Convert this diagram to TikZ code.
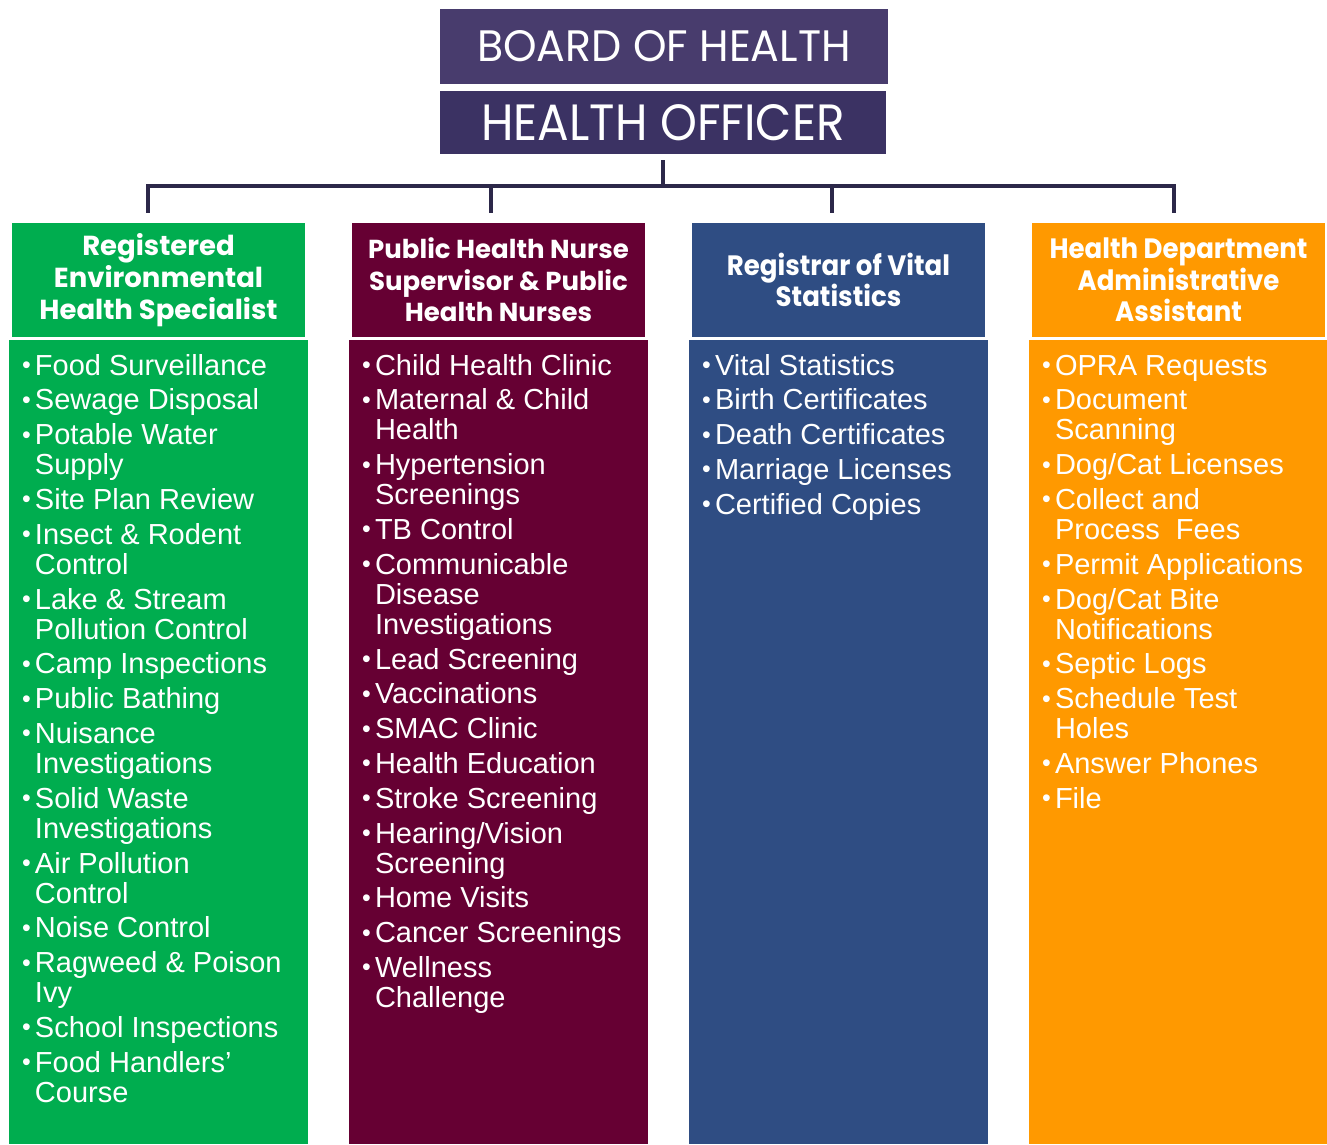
\documentclass[tikz,border=0pt]{standalone}
\usepackage{fontspec}
\setmainfont{Liberation Sans}
\newfontfamily\hdfont{Poppins}
\newfontfamily\hdcond{Poppins}[FakeStretch=0.93]
\newfontfamily\boardfont{Poppins}[FakeStretch=0.97]
\newfontfamily\offfont{Poppins}[FakeStretch=0.92]
\definecolor{boardc}{HTML}{483C6D}
\definecolor{offc}{HTML}{3B3263}
\definecolor{linec}{HTML}{2C2849}
\definecolor{grn}{HTML}{00AD4F}
\definecolor{mar}{HTML}{660033}
\definecolor{blu}{HTML}{2F4D83}
\definecolor{org}{HTML}{FF9900}
\newcommand\itm[1]{\par\hangindent=13pt\hangafter=1\noindent\makebox[13pt][l]{\raisebox{1.5pt}{\fontsize{25}{25}\selectfont\textbullet}}#1}
\newcommand\nl{\newline}
\newcommand\lstsetup{\setlength\parskip{4.8pt}\setlength\parindent{0pt}\setlength\parfillskip{0pt plus 1fil}}
\begin{document}
\begin{tikzpicture}[x=1pt,y=-1pt,
  box/.style={rectangle,inner sep=0pt,outer sep=0pt,text=white},
  conn/.style={draw=linec,line width=4pt},
  hdr/.style={box,minimum width=293pt,minimum height=114pt,align=center,font=\hdfont\bfseries\fontsize{26}{31.5}\selectfont},
  hdrc/.style={box,minimum width=293pt,minimum height=114pt,align=center,font=\hdcond\bfseries\fontsize{28}{31.5}\selectfont},
  body/.style={box,minimum width=299pt,minimum height=804pt},
  lst/.style={anchor=base west,inner sep=0pt,outer sep=0pt,text=white,font=\fontsize{29}{30}\selectfont}]
\useasboundingbox (0,0) rectangle (1327,1144);
\fill[white] (0,0) rectangle (1327,1144);
% top boxes
\node[box,fill=boardc,minimum width=448pt,minimum height=75pt,font=\boardfont\fontsize{44}{44}\selectfont] (board) at (664,46.5) {BOARD OF HEALTH};
\node[box,fill=offc,minimum width=446pt,minimum height=63pt,font=\offfont\fontsize{51}{51}\selectfont] (officer) at (663,122.5) {HEALTH OFFICER};
% headers
\node[hdr,fill=grn,font=\hdfont\bfseries\fontsize{27.5}{32}\selectfont] (h1) at (158.5,280) {Registered\\Environmental\\Health Specialist};
\node[hdr,fill=mar] (h2) at (498.5,280) {Public Health Nurse\\Supervisor \& Public\\Health Nurses};
\node[hdrc,fill=blu] (h3) at (838.5,280) {Registrar of Vital\\Statistics};
\node[hdrc,fill=org] (h4) at (1178.5,280) {Health Department\\Administrative\\Assistant};
% bodies
\node[body,fill=grn] (b1) at (158.5,742) {};
\node[body,fill=mar] (b2) at (498.5,742) {};
\node[body,fill=blu] (b3) at (838.5,742) {};
\node[body,fill=org,minimum width=298pt] (b4) at (1178,742) {};
% connectors
\coordinate (hub) at (663,186);
\coordinate (jl) at (146,186);
\coordinate (jr) at (1176,186);
\coordinate (j1) at (148,184); \coordinate (d1) at (148,213);
\coordinate (j2) at (491,184); \coordinate (d2) at (491,213);
\coordinate (j3) at (832,184); \coordinate (d3) at (832,213);
\coordinate (j4) at (1174,184); \coordinate (d4) at (1174,213);
\draw[conn,shorten <=6pt] (officer.south) -- (hub);
\draw[conn] (jl) -- (jr);
\draw[conn] (j1) -- (d1);
\draw[conn] (j2) -- (d2);
\draw[conn] (j3) -- (d3);
\draw[conn] (j4) -- (d4);
% lists
\node[lst] (l1) at (22,375) {\parbox[t]{290pt}{\lstsetup
\itm{Food Surveillance}
\itm{Sewage Disposal}
\itm{Potable Water\nl Supply}
\itm{Site Plan Review}
\itm{Insect \& Rodent\nl Control}
\itm{Lake \& Stream\nl Pollution Control}
\itm{Camp Inspections}
\itm{Public Bathing}
\itm{Nuisance\nl Investigations}
\itm{Solid Waste\nl Investigations}
\itm{Air Pollution\nl Control}
\itm{Noise Control}
\itm{Ragweed \& Poison\nl Ivy}
\itm{School Inspections}
\itm{Food Handlers’\nl Course}}};
\node[lst] (l2) at (362,375) {\parbox[t]{290pt}{\lstsetup
\itm{Child Health Clinic}
\itm{Maternal \& Child\nl Health}
\itm{Hypertension\nl Screenings}
\itm{TB Control}
\itm{Communicable\nl Disease\nl Investigations}
\itm{Lead Screening}
\itm{Vaccinations}
\itm{SMAC Clinic}
\itm{Health Education}
\itm{Stroke Screening}
\itm{Hearing/Vision\nl Screening}
\itm{Home Visits}
\itm{Cancer Screenings}
\itm{Wellness\nl Challenge}}};
\node[lst] (l3) at (702,375) {\parbox[t]{290pt}{\lstsetup
\itm{Vital Statistics}
\itm{Birth Certificates}
\itm{Death Certificates}
\itm{Marriage Licenses}
\itm{Certified Copies}}};
\node[lst] (l4) at (1042,375) {\parbox[t]{290pt}{\lstsetup
\itm{OPRA Requests}
\itm{Document\nl Scanning}
\itm{Dog/Cat Licenses}
\itm{Collect and\nl Process\ \ Fees}
\itm{Permit Applications}
\itm{Dog/Cat Bite\nl Notifications}
\itm{Septic Logs}
\itm{Schedule Test\nl Holes}
\itm{Answer Phones}
\itm{File}}};
\end{tikzpicture}
\end{document}
